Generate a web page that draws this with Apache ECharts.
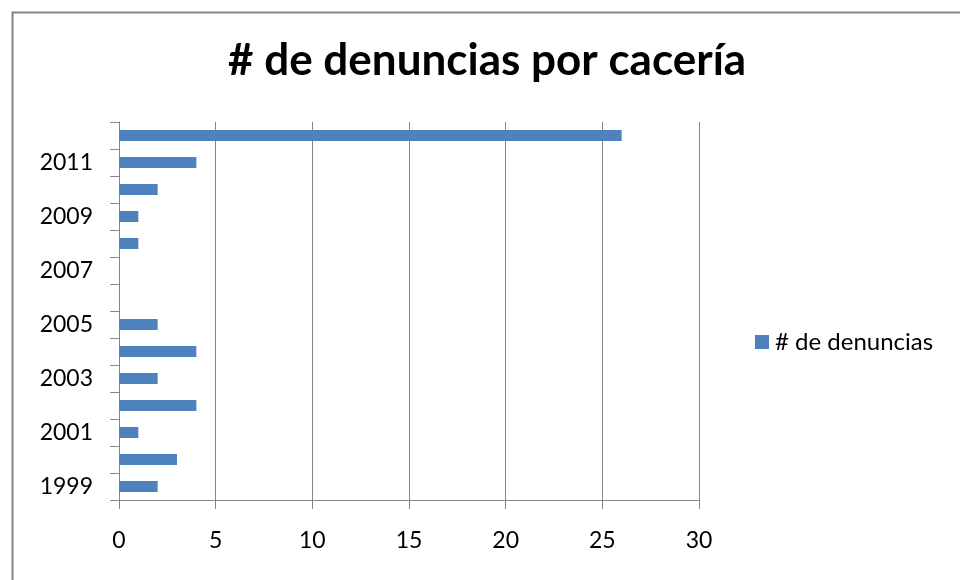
<!DOCTYPE html>
<html>
<head>
<meta charset="utf-8">
<script src="https://cdn.jsdelivr.net/npm/echarts@6/dist/echarts.min.js"></script>
<style>html,body{margin:0;padding:0;background:#fff;}#c{width:960px;height:580px;}</style>
</head>
<body>
<div id="c"></div>
<script>
const titleText = '# de denuncias por cacería';
const seriesName = '# de denuncias';
const years = ['1999','2000','2001','2002','2003','2004','2005','2006','2007','2008','2009','2010','2011','2012'];
const denuncias = [2, 3, 1, 4, 2, 4, 2, 0, 0, 1, 1, 2, 4, 26];
const xTicks = { min: 0, max: 30, interval: 5 };

const FONT = 'Lato';
const chart = echarts.init(document.getElementById('c'), null, { renderer: 'canvas' });
chart.setOption({
  animation: false,
  backgroundColor: '#fff',
  graphic: [{
    type: 'rect', left: 10, top: 10, z: -1,
    shape: { width: 960, height: 580 },
    style: { fill: 'none', stroke: '#868686', lineWidth: 2 }
  }],
  title: {
    text: titleText, left: 228, top: 39, padding: 0,
    textStyle: { fontFamily: FONT, fontWeight: 'bold', fontSize: 44, color: '#000' }
  },
  legend: {
    left: 755, top: 330, padding: 0, itemWidth: 14, itemHeight: 14, itemGap: 6,
    icon: 'rect',
    textStyle: { fontFamily: FONT, fontSize: 24, color: '#000', padding: [0,0,0,1] },
    data: [seriesName]
  },
  grid: { left: 119, right: 261, top: 122, bottom: 80, containLabel: false },
  xAxis: {
    type: 'value', min: xTicks.min, max: xTicks.max, interval: xTicks.interval,
    axisLine: { show: true, lineStyle: { color: '#868686', width: 1 } },
    axisTick: { show: true, length: 9, lineStyle: { color: '#868686' } },
    splitLine: { show: true, lineStyle: { color: '#868686', width: 1 } },
    axisLabel: { fontFamily: FONT, fontSize: 23, color: '#000', margin: 29 }
  },
  yAxis: {
    type: 'category', data: years,
    axisLine: { show: true, lineStyle: { color: '#868686', width: 1 } },
    axisTick: { show: true, length: 9, interval: 0, alignWithLabel: false, lineStyle: { color: '#868686' } },
    axisLabel: { interval: 1, fontFamily: FONT, fontSize: 23, color: '#000', margin: 26 },
    splitLine: { show: false }
  },
  series: [{
    name: seriesName, type: 'bar', data: denuncias,
    barWidth: 11,
    itemStyle: { color: '#4F81BD' }
  }]
});
</script>
</body>
</html>
